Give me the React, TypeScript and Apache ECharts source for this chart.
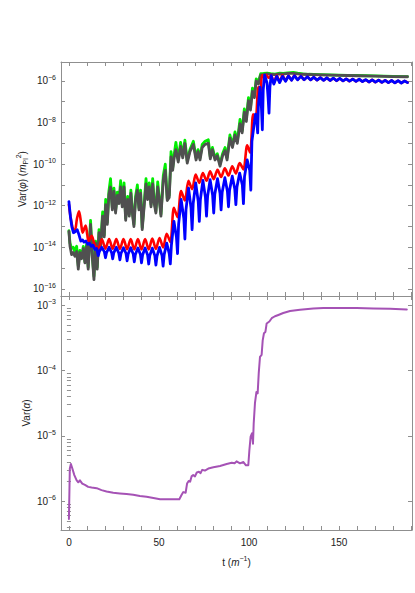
import React, { useEffect, useRef } from "react";
import * as echarts from "echarts";

// ---- data: [t, log10(value)] ----
const blue: [number, number][] = [
  [0,-11.8],[0.8,-12.5],[1.6,-13.0],[2.5,-13.3],[3.4,-13.25],[4.6,-13.15],[5.6,-13.4],[6.6,-13.7],[7.6,-13.65],[8.4,-13.75],[9.4,-13.7],[10.4,-13.85],[11.4,-13.8],[12.4,-13.95],[13.4,-13.9],[14.4,-14.1],[15.4,-14.05],
  [16.3,-14.4],[16.9,-14.2],[18.3,-14.0],[19.7,-14.22],[20.3,-14.5],[20.9,-14.25],[22.3,-14.0],[23.7,-14.25],[24.3,-14.55],[24.9,-14.27],[26.3,-14.0],[27.7,-14.28],[28.3,-14.6],[28.9,-14.3],[30.3,-14.02],[31.7,-14.3],[32.3,-14.65],[32.9,-14.32],[34.3,-14.02],[35.7,-14.32],[36.3,-14.7],[36.9,-14.34],[38.3,-14.03],[39.7,-14.35],[40.3,-14.75],[40.9,-14.37],[42.3,-14.03],[43.7,-14.37],[44.3,-14.8],[44.9,-14.4],[46.3,-14.04],[47.7,-14.4],[48.3,-14.85],[48.9,-14.42],[50.3,-14.0],[51.7,-14.4],[52.3,-14.9],[52.9,-14.35],[54.3,-13.8],[55.7,-14.3],
  [56.3,-14.8],[56.9,-13.9],[58.3,-12.75],[59.7,-13.5],[60.3,-14.3],[60.9,-12.9],[62.3,-11.7],[63.8,-12.6],[64.4,-13.6],[65.0,-12.2],[66.4,-11.15],[67.8,-12.1],[68.4,-13.15],[69.0,-11.9],[70.4,-10.9],[71.8,-11.8],[72.4,-12.75],[73.0,-11.7],[74.4,-10.78],[75.8,-11.6],[76.4,-12.5],[77.0,-11.55],[78.4,-10.75],[79.8,-11.5],[80.4,-12.35],[81.0,-11.45],[82.5,-10.7],[83.9,-11.4],[84.5,-12.2],[85.1,-11.35],[86.6,-10.65],[88.0,-11.3],[88.6,-12.05],[89.2,-11.25],[90.7,-10.58],[92.1,-11.2],[92.7,-11.95],[93.3,-11.1],[94.8,-10.43],[96.3,-11.0],[96.9,-11.9],[97.5,-10.6],[99.0,-9.8],[100.4,-10.3],[101.0,-11.25],[101.6,-8.9],[103.6,-7.6],[104.4,-8.0],[104.8,-8.5],[105.2,-7.2],[106.1,-6.3],[106.9,-7.3],[107.4,-8.35],[107.9,-6.4],[108.7,-5.72],[110.0,-6.1],[110.6,-6.8],[111.1,-7.55],[111.6,-6.3],[112.3,-5.75],
  [113.8,-6.15],[115.4,-5.78],[117.0,-6.08],[118.6,-5.78],[120.3,-6.02],[121.9,-5.76],[123.6,-5.97],[125.2,-5.75],[127.0,-5.95],[128.8,-5.78],[130.6,-5.94],[132.4,-5.8],[134.2,-5.95],[136.0,-5.82],[137.8,-5.96],[139.6,-5.84],[141.4,-5.97],[143.2,-5.85],[145.0,-5.98],[146.8,-5.87],[148.6,-5.99],[150.4,-5.88],[152.2,-6.0],[154.0,-5.9],[155.8,-6.01],[157.6,-5.91],[159.4,-6.02],[161.2,-5.92],[163.0,-6.03],[164.8,-5.94],[166.6,-6.05],[168.4,-5.95],[170.2,-6.06],[172.0,-5.96],[173.8,-6.07],[175.6,-5.97],[177.4,-6.08],[179.2,-5.98],[181.0,-6.09],[182.8,-5.99],[184.6,-6.1],[186.4,-6.0],[188.0,-6.08],
];

const red: [number, number][] = [
  [0,-11.95],[1.0,-12.6],[2.2,-13.1],[3.3,-13.2],[4.5,-12.6],[5.6,-12.27],[6.7,-12.8],[7.6,-13.3],[8.5,-13.1],[9.3,-12.95],[10.2,-13.4],[10.9,-13.7],[12.6,-13.45],[14.4,-13.9],
  [16.3,-14.05],[18.3,-13.62],[20.3,-14.06],[22.3,-13.6],[24.3,-14.07],[26.3,-13.6],[28.3,-14.08],[30.3,-13.6],[32.3,-14.09],[34.3,-13.6],[36.3,-14.1],[38.3,-13.6],[40.3,-14.1],[42.3,-13.6],[44.3,-14.1],[46.3,-13.58],[48.3,-14.08],[50.3,-13.55],[52.3,-14.0],[54.3,-13.35],[56.3,-13.75],
  [58.3,-12.1],[60.3,-12.55],[62.3,-11.3],[64.4,-11.75],[66.4,-10.8],[68.4,-11.2],[70.4,-10.5],[72.4,-10.9],[74.4,-10.43],[76.4,-10.8],[78.4,-10.35],[80.4,-10.72],[82.5,-10.27],[84.5,-10.62],[86.6,-10.2],[88.6,-10.55],[90.7,-10.1],[92.7,-10.45],[94.8,-9.95],[96.9,-10.25],[99.0,-9.1],[100.6,-9.45],[102.3,-7.6],[103.6,-8.0],[105.2,-6.3],[106.2,-6.65],[107.3,-5.72],[108.5,-5.85],[109.5,-5.72],[111.0,-5.85],[112.3,-5.74],
  [113.8,-6.1],[115.4,-5.74],[117.0,-6.04],[118.6,-5.73],[120.3,-6.0],[121.9,-5.74],[123.6,-5.96],[125.2,-5.73],[127.0,-5.94],[128.8,-5.76],[130.6,-5.94],[132.4,-5.8],[134.2,-5.95],[136.0,-5.82],[137.8,-5.96],[139.6,-5.84],[141.4,-5.97],[143.2,-5.85],[145.0,-5.98],[146.8,-5.87],[148.6,-5.99],[150.4,-5.88],[152.2,-6.0],[154.0,-5.9],[155.8,-6.01],[157.6,-5.91],[159.4,-6.02],[161.2,-5.92],[163.0,-6.03],[164.8,-5.94],[166.6,-6.05],[168.4,-5.95],[170.2,-6.06],[172.0,-5.96],[173.8,-6.07],[175.6,-5.97],[177.4,-6.08],[179.2,-5.98],[181.0,-6.09],[182.8,-5.99],[184.6,-6.1],[186.4,-6.0],[188.0,-6.08],
];

const gray: [number, number][] = [
  [0,-13.23],[0.6,-13.95],[1.5,-14.35],[2.4,-14.25],[3.3,-14.43],[4.3,-14.2],[5.2,-15.05],[6.1,-14.25],[7.0,-14.55],[8.0,-14.05],[8.9,-14.75],[9.8,-13.95],[10.7,-15.05],[12.0,-12.9],[13.0,-14.5],[13.9,-15.55],[14.8,-13.8],[15.7,-15.05],[16.7,-13.3],[17.6,-13.95],[18.7,-12.5],[19.6,-13.5],[20.4,-11.95],[21.3,-12.9],[22.2,-11.45],[23.1,-11.1],[24.1,-12.2],[25.0,-11.3],[25.9,-12.35],[26.9,-11.5],[27.8,-11.9],[28.7,-11.1],[29.6,-12.05],[30.6,-11.1],[31.5,-12.7],[32.6,-11.7],[33.5,-12.5],[34.4,-11.4],[35.4,-12.5],[36.1,-13.0],[37.0,-11.7],[38.0,-11.25],[38.9,-12.2],[39.8,-11.4],[40.7,-13.15],[41.9,-11.9],[42.8,-10.95],[43.7,-11.7],[44.6,-11.1],[45.6,-12.05],[46.5,-10.95],[47.4,-11.9],[48.3,-12.35],[49.3,-11.1],[50.2,-11.75],[51.1,-12.5],[52.4,-10.75],[53.5,-10.3],[54.6,-11.75],[55.7,-11.6],[56.7,-9.65],[57.6,-10.3],[58.5,-9.65],[59.4,-9.3],[60.7,-9.9],[62.0,-9.15],[63.2,-9.7],[64.4,-9.0],[65.7,-9.95],[67.2,-9.4],[69.1,-9.05],[70.6,-9.8],[71.7,-9.4],[72.8,-9.8],[74.0,-9.2],[75.6,-9.05],[77.4,-9.0],[78.5,-9.75],[79.7,-9.3],[81.1,-9.8],[82.4,-9.6],[83.9,-10.1],[85.3,-9.6],[86.7,-9.35],[87.8,-9.8],[89.4,-8.75],[90.8,-9.2],[92.2,-8.6],[93.5,-9.0],[95.0,-8.05],[96.2,-8.5],[97.4,-7.5],[98.5,-7.95],[99.7,-6.95],[100.8,-7.4],[101.9,-6.5],[103.0,-6.8],[104.0,-6.0],[105.2,-6.15],[106.5,-5.72],[108.0,-5.7],[110.0,-5.66],[112.0,-5.68],[114.4,-5.7],[117.0,-5.66],[119.0,-5.67],[121.5,-5.64],[124.6,-5.64],[127.0,-5.66],[130.0,-5.68],[133.0,-5.69],[136.0,-5.7],[140.0,-5.71],[145.0,-5.72],[150.0,-5.73],[155.0,-5.74],[160.0,-5.75],[165.0,-5.76],[170.0,-5.77],[175.0,-5.78],[180.0,-5.79],[188.0,-5.8],
];

const green: [number, number][] = [
  [0,-13.2],[0.6,-13.8],[1.5,-14.05],[2.4,-14.0],[3.3,-14.2],[4.3,-13.95],[5.2,-14.9],[6.1,-14.15],[7.0,-14.5],[8.0,-13.95],[8.9,-14.7],[9.8,-13.85],[10.7,-14.95],[12.0,-12.7],[13.0,-14.4],[13.9,-15.4],[14.8,-13.7],[15.7,-14.95],[16.7,-13.15],[17.6,-13.9],[18.7,-12.3],[19.6,-13.4],[20.4,-11.7],[21.3,-12.8],[22.2,-11.3],[23.1,-10.7],[24.1,-12.1],[25.0,-11.15],[25.9,-12.25],[26.9,-11.35],[27.8,-11.8],[28.7,-10.8],[29.6,-11.95],[30.6,-10.9],[31.5,-12.6],[32.6,-11.55],[33.5,-12.4],[34.4,-11.25],[35.4,-12.4],[36.1,-12.9],[37.0,-11.55],[38.0,-11.0],[38.9,-12.1],[39.8,-11.25],[40.7,-13.05],[41.9,-11.75],[42.8,-10.7],[43.7,-11.6],[44.6,-10.9],[45.6,-11.95],[46.5,-10.7],[47.4,-11.8],[48.3,-12.25],[49.3,-10.85],[50.2,-11.65],[51.1,-12.4],[52.4,-10.55],[53.5,-10.0],[54.6,-11.65],[55.7,-11.5],[56.7,-9.4],[57.6,-10.2],[58.5,-9.5],[59.4,-8.95],[60.7,-9.8],[62.0,-8.95],[63.2,-9.6],[64.4,-8.85],[65.7,-9.85],[67.2,-9.3],[69.1,-8.9],[70.6,-9.7],[71.7,-9.3],[72.8,-9.7],[74.0,-9.05],[75.6,-8.9],[77.4,-8.83],[78.5,-9.65],[79.7,-9.2],[81.1,-9.7],[82.4,-9.5],[83.9,-10.0],[85.3,-9.5],[86.7,-9.2],[87.8,-9.7],[89.4,-8.6],[90.8,-9.1],[92.2,-8.45],[93.5,-8.9],[95.0,-7.85],[96.2,-8.4],[97.4,-7.35],[98.5,-7.85],[99.7,-6.8],[100.8,-7.3],[101.9,-6.35],[103.0,-6.7],[104.0,-5.9],[105.2,-6.05],[106.5,-5.65],[108.0,-5.64],[110.0,-5.62],[112.0,-5.65],[114.4,-5.67],[117.0,-5.63],[119.0,-5.64],[121.5,-5.61],[124.6,-5.59],[127.0,-5.63],[130.0,-5.66],[133.0,-5.68],[136.0,-5.69],[140.0,-5.7],[145.0,-5.71],[150.0,-5.72],[155.0,-5.73],[160.0,-5.74],[165.0,-5.75],[170.0,-5.76],[175.0,-5.77],[180.0,-5.78],[188.0,-5.79],
];

const purple: [number, number][] = [
  [0,-6.27],[0.5,-5.5],[1.1,-5.43],[1.9,-5.5],[3.0,-5.6],[4.3,-5.68],[5.2,-5.71],[6.1,-5.68],[7.4,-5.73],[8.9,-5.75],[10.7,-5.78],[12.6,-5.79],[15.4,-5.8],[18.1,-5.83],[20.9,-5.85],[24.6,-5.87],[28.3,-5.88],[32.0,-5.89],[35.7,-5.9],[39.4,-5.92],[43.1,-5.93],[46.9,-5.95],[50.6,-5.97],[54.3,-5.97],[58.0,-5.97],[61.3,-5.97],[62.6,-5.9],[63.5,-5.86],[64.8,-5.87],[65.6,-5.73],[66.5,-5.69],[67.3,-5.7],[68.1,-5.62],[69.0,-5.6],[70.0,-5.62],[71.0,-5.56],[72.2,-5.55],[73.1,-5.57],[74.0,-5.52],[75.5,-5.53],[77.4,-5.5],[80.2,-5.48],[83.9,-5.46],[87.6,-5.43],[90.4,-5.41],[92.0,-5.42],[93.1,-5.39],[95.0,-5.42],[96.9,-5.4],[98.3,-5.45],[99.6,-5.45],[100.2,-5.22],[100.9,-5.01],[101.7,-4.96],[102.2,-5.12],[102.6,-4.81],[103.3,-4.5],[104.1,-4.33],[104.8,-4.35],[105.4,-4.04],[106.1,-3.79],[107.0,-3.76],[107.6,-3.54],[108.3,-3.43],[109.1,-3.41],[109.8,-3.28],[111.3,-3.25],[112.6,-3.2],[114.4,-3.17],[116.3,-3.15],[119.0,-3.12],[122.8,-3.09],[128.3,-3.07],[135.7,-3.05],[141.3,-3.045],[150.6,-3.045],[159.8,-3.045],[169.0,-3.05],[178.3,-3.055],[187.6,-3.065],
];

// ---- axes ----
const xTicks = [0,10,20,30,40,50,60,70,80,90,100,110,120,130,140,150,160,170,180,190];
const xLabels = [0,50,100,150];
const topYTicks = [-16,-15,-14,-13,-12,-11,-10,-9,-8,-7,-6];
const topYLabels = [-16,-14,-12,-10,-8,-6];
const botYTicks = [-6,-5,-4,-3];
const botMantissas = [2,3,4,5,6,7,8,9];
const botDecades = [-7,-6,-5,-4,-3];

const X_MIN = -4.4, X_MAX = 190.5;
const TOP_MIN = -16.34, TOP_MAX = -5.09;
const BOT_MIN = -6.44, BOT_MAX = -2.86;

const FRAME = "#8f8f8f";
const TXT = "#222";
const FONT = "Liberation Sans, Arial, sans-serif";

export default function App() {
  const ref = useRef<HTMLDivElement>(null);
  useEffect(() => {
    document.body.style.margin = "0";
    if (!ref.current) return;
    const chart = echarts.init(ref.current, undefined, { renderer: "svg" });

    const botMinor: number[] = [];
    botDecades.forEach((k) => botMantissas.forEach((m) => {
      const v = k + Math.log10(m);
      if (v > BOT_MIN && v < BOT_MAX) botMinor.push(v);
    }));

    const supLabel = (v: number) => `{b|10}{s|${v < 0 ? "\u2212" + Math.abs(v) : v}}`;
    const labelRich = {
      b: { fontSize: 10, color: TXT, fontFamily: FONT },
      s: { fontSize: 7, color: TXT, fontFamily: FONT, padding: [0, 0, 7, 0] },
    };

    const tick = (values: number[], len = 4) => ({
      show: true, inside: true, length: len, customValues: values,
      lineStyle: { color: FRAME, width: 1 },
    });
    const line = { show: true, onZero: false, lineStyle: { color: FRAME, width: 1 } };

    const xBase = (grid: number, pos: string) => ({
      type: "value", gridIndex: grid, position: pos, min: X_MIN, max: X_MAX,
      splitLine: { show: false }, axisLine: line, axisTick: tick(xTicks),
      axisLabel: { show: false },
    });
    const yBase = (grid: number, pos: string, min: number, max: number, ticks: number[], len = 4, showLine = true) => ({
      type: "value", gridIndex: grid, position: pos, min, max,
      splitLine: { show: false }, axisLine: showLine ? line : { show: false },
      axisTick: tick(ticks, len), axisLabel: { show: false },
    });

    const nameRich = {
      i: { fontSize: 10, fontStyle: "italic", color: TXT, fontFamily: FONT },
      sub: { fontSize: 7, color: TXT, fontFamily: FONT, padding: [6, 0, 0, 0] },
      sup: { fontSize: 7, color: TXT, fontFamily: FONT, padding: [0, 0, 7, 0] },
    };

    const xBottom: any = xBase(1, "bottom");
    xBottom.axisLabel = { show: true, customValues: xLabels, margin: 7, color: TXT, fontSize: 10, fontFamily: FONT };
    xBottom.name = "t ({i|m}{sup|\u22121})";
    xBottom.nameLocation = "middle";
    xBottom.nameGap = 25;
    xBottom.nameMoveOverlap = false;
    xBottom.nameTextStyle = { fontSize: 10, color: TXT, fontFamily: FONT, rich: nameRich };

    const yTop: any = yBase(0, "left", TOP_MIN, TOP_MAX, topYTicks);
    yTop.axisLabel = { show: true, customValues: topYLabels, margin: 5, formatter: supLabel, rich: labelRich };
    yTop.name = "Var({i|\u03c6}) ({i|m}{sub|Pl}{sup|2})";
    yTop.nameLocation = "middle";
    yTop.nameGap = 32;
    yTop.nameMoveOverlap = false;
    yTop.nameTextStyle = { fontSize: 10, color: TXT, fontFamily: FONT, rich: nameRich };

    const yBot: any = yBase(1, "left", BOT_MIN, BOT_MAX, botYTicks);
    yBot.axisLabel = { show: true, customValues: botYTicks, margin: 5, formatter: supLabel, rich: labelRich };
    yBot.name = "Var({i|\u03b1})";
    yBot.nameLocation = "middle";
    yBot.nameGap = 30;
    yBot.nameMoveOverlap = false;
    yBot.nameTextStyle = { fontSize: 10, color: TXT, fontFamily: FONT, rich: nameRich };

    const lineSeries = (data: [number, number][], color: string, width: number, xi: number, yi: number, smooth: any = false) => ({
      type: "line", data, xAxisIndex: xi, yAxisIndex: yi, showSymbol: false, symbol: "none",
      smooth, clip: true, lineStyle: { color, width, join: "round", cap: "round" },
    });

    chart.setOption({
      animation: false,
      backgroundColor: "#fff",
      grid: [
        { left: 61, right: 3, top: 62, height: 234, containLabel: false },
        { left: 61, right: 3, top: 296, height: 234, containLabel: false },
      ],
      xAxis: [xBase(0, "bottom"), xBase(0, "top"), xBottom, xBase(1, "top")],
      yAxis: [
        yTop,
        yBase(0, "right", TOP_MIN, TOP_MAX, topYTicks),
        yBot,
        yBase(1, "right", BOT_MIN, BOT_MAX, botYTicks),
        yBase(1, "left", BOT_MIN, BOT_MAX, botMinor, 2, false),
        yBase(1, "right", BOT_MIN, BOT_MAX, botMinor, 2, false),
      ],
      series: [
        lineSeries(green, "#00ee00", 2.8, 0, 0),
        lineSeries(gray, "#505050", 2.8, 0, 0),
        lineSeries(red, "#ff0000", 2.6, 0, 0, 0.3),
        lineSeries(blue, "#0000ff", 2.8, 0, 0),
        lineSeries(purple, "#a552b5", 2.0, 2, 2),
      ],
    });
    return () => chart.dispose();
  }, []);
  return <div ref={ref} style={{ width: 415, height: 593 }} />;
}
